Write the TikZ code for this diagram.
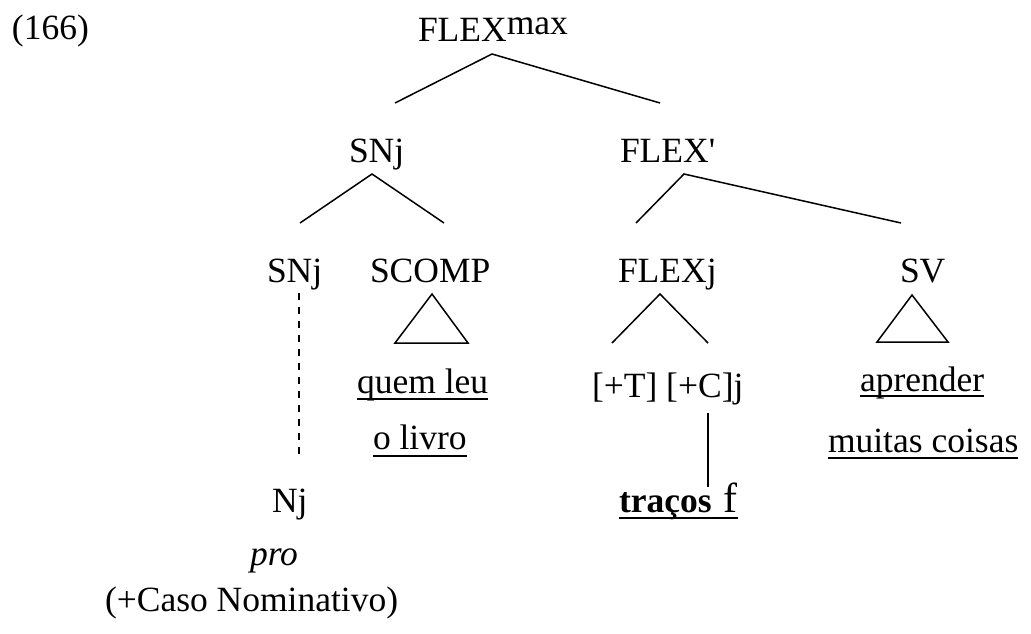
\documentclass[tikz,border=0pt]{standalone}
\usepackage{fontspec}
\setmainfont{Liberation Serif}
\begin{document}
\begin{tikzpicture}[x=1pt,y=-1pt,
  lbl/.style={inner sep=0pt,outer sep=0pt,anchor=base west,font=\fontsize{35.5}{40}\selectfont},
  br/.style={line width=1.5pt,line cap=butt},
  ul/.style={line width=1.8pt},
  dsh/.style={line width=1.6pt,dash pattern=on 7pt off 7pt}]
\useasboundingbox (0,0) rectangle (1031,634);
% labels
\node[lbl] (ex) at (12,40) {(166)};
\node[lbl] (top) at (418,42) {FLEX\raisebox{7pt}{max}};
\node[lbl] (snj) at (349,162) {SNj};
\node[lbl] (flexp) at (620,162) {FLEX\textquotesingle};
\node[lbl] (snjb) at (267,282) {SNj};
\node[lbl] (scomp) at (370,282) {SCOMP};
\node[lbl] (flexj) at (618,282) {FLEXj};
\node[lbl] (sv) at (900,282) {SV};
\node[lbl] (q1) at (357,393) {quem leu};
\node[lbl] (q2) at (373,449) {o livro};
\node[lbl] (tc) at (592,397) {[+T] [+C]j};
\node[lbl] (a1) at (860,391) {aprender};
\node[lbl] (a2) at (828,452) {muitas coisas};
\node[lbl] (tr) at (619,512) {\textbf{traços}\hspace{12pt}{\fontsize{42}{44}\selectfont f}};
\node[lbl] (nj) at (272,512) {Nj};
\node[lbl] (pro) at (250,565) {\textit{pro}};
\node[lbl] (caso) at (105,611) {(+Caso Nominativo)};
% branch points
\coordinate (topb) at (492,54);
\coordinate (snjt) at (395,103);
\coordinate (flexpt) at (660,103);
\coordinate (snjb1) at (372,174);
\coordinate (snjbt) at (300,223);
\coordinate (scompt) at (444,223);
\coordinate (flexpb) at (684,174);
\coordinate (flexjt) at (636,223);
\coordinate (svt) at (901,223);
\coordinate (flexjb) at (660,294);
\coordinate (tl) at (612,343);
\coordinate (tr2) at (708,343);
\draw[br] (snjt) -- (topb) -- (flexpt);
\draw[br] (snjbt) -- (snjb1) -- (scompt);
\draw[br] (flexjt) -- (flexpb) -- (svt);
\draw[br] (tl) -- (flexjb) -- (tr2);
% triangles
\draw[br,line join=miter] (395,343) -- (432,294) -- (468,343) -- cycle;
\draw[br,line join=miter] (877,342) -- (912,295) -- (948,342) -- cycle;
% dashed line
\coordinate (d1) at (299,293);
\coordinate (d2) at (299,456);
\draw[dsh] (d1) -- (d2);
% vertical line
\coordinate (v1) at (708,413);
\coordinate (v2) at (708,487);
\draw[br] (v1) -- (v2);
% underlines
\draw[ul] ([yshift=-6pt]q1.base west) -- ([yshift=-6pt]q1.base east);
\draw[ul] ([yshift=-7pt]q2.base west) -- ([yshift=-7pt]q2.base east);
\draw[ul] ([yshift=-5pt]a1.base west) -- ([yshift=-5pt]a1.base east);
\draw[ul] ([yshift=-6pt]a2.base west) -- ([yshift=-6pt]a2.base east);
\draw[line width=2.6pt] ([yshift=-6pt]tr.base west) -- ([yshift=-6pt]tr.base east);
\end{tikzpicture}
\end{document}
